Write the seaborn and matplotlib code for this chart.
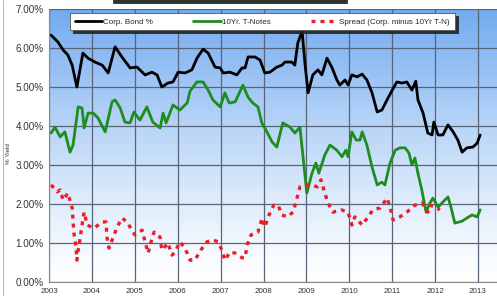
import numpy as np
import pandas as pd
import seaborn as sns
import matplotlib.pyplot as plt
from matplotlib.patches import Rectangle

# values (decimal year, percent yield)
corp_x = [2003.05, 2003.21, 2003.33, 2003.44, 2003.54, 2003.65, 2003.79, 2003.91, 2004.07, 2004.24,
          2004.38, 2004.54, 2004.70, 2004.89, 2005.05, 2005.24, 2005.40, 2005.52, 2005.63, 2005.77,
          2005.89, 2006.01, 2006.17, 2006.33, 2006.45, 2006.59, 2006.71, 2006.87, 2006.99, 2007.06,
          2007.22, 2007.38, 2007.50, 2007.57, 2007.64, 2007.80, 2007.92, 2008.03, 2008.15, 2008.31,
          2008.43, 2008.50, 2008.66, 2008.73, 2008.80, 2008.90, 2008.97, 2009.04, 2009.15, 2009.27,
          2009.36, 2009.48, 2009.60, 2009.71, 2009.78, 2009.90, 2009.97, 2010.06, 2010.18, 2010.30,
          2010.41, 2010.53, 2010.65, 2010.76, 2010.88, 2011.00, 2011.11, 2011.23, 2011.34, 2011.46,
          2011.55, 2011.60, 2011.72, 2011.83, 2011.93, 2011.97, 2012.07, 2012.18, 2012.30, 2012.42,
          2012.53, 2012.63, 2012.74, 2012.88, 2012.98, 2013.05]
corp_y = [6.33, 6.15, 5.95, 5.82, 5.56, 5.00, 5.87, 5.74, 5.64, 5.56,
          5.36, 6.03, 5.77, 5.49, 5.51, 5.31, 5.38, 5.31, 5.00, 5.10,
          5.13, 5.38, 5.36, 5.44, 5.74, 5.97, 5.87, 5.51, 5.49, 5.36,
          5.38, 5.31, 5.49, 5.49, 5.77, 5.77, 5.69, 5.36, 5.38, 5.51,
          5.56, 5.64, 5.64, 5.56, 6.13, 6.43, 5.56, 4.85, 5.31, 5.44,
          5.31, 5.74, 5.49, 5.18, 5.05, 5.18, 5.05, 5.31, 5.26, 5.33,
          5.18, 4.85, 4.36, 4.41, 4.67, 4.92, 5.13, 5.10, 5.13, 4.92,
          5.15, 4.67, 4.33, 3.82, 3.77, 4.10, 3.77, 3.77, 4.03, 3.85,
          3.64, 3.33, 3.44, 3.46, 3.56, 3.77]

tnote_x = [2003.05, 2003.14, 2003.26, 2003.37, 2003.49, 2003.56, 2003.68, 2003.77, 2003.82, 2003.91,
           2004.03, 2004.14, 2004.31, 2004.47, 2004.54, 2004.66, 2004.77, 2004.89, 2004.98, 2005.12,
           2005.28, 2005.42, 2005.59, 2005.66, 2005.73, 2005.89, 2006.05, 2006.22, 2006.29, 2006.45,
           2006.59, 2006.71, 2006.82, 2006.99, 2007.10, 2007.20, 2007.34, 2007.52, 2007.64, 2007.75,
           2007.87, 2007.96, 2008.08, 2008.20, 2008.31, 2008.45, 2008.62, 2008.73, 2008.85, 2009.01,
           2009.13, 2009.22, 2009.29, 2009.43, 2009.55, 2009.71, 2009.83, 2009.92, 2009.97, 2010.06,
           2010.16, 2010.25, 2010.30, 2010.41, 2010.53, 2010.65, 2010.76, 2010.83, 2010.95, 2011.07,
           2011.18, 2011.30, 2011.39, 2011.46, 2011.53, 2011.60, 2011.69, 2011.79, 2011.88, 2011.95,
           2012.07, 2012.18, 2012.30, 2012.37, 2012.46, 2012.63, 2012.74, 2012.86, 2012.98, 2013.05]
tnote_y = [3.82, 3.97, 3.72, 3.85, 3.33, 3.51, 4.49, 4.46, 3.95, 4.33,
           4.33, 4.21, 3.85, 4.62, 4.67, 4.46, 4.10, 4.08, 4.36, 4.15,
           4.49, 4.10, 3.95, 4.33, 4.08, 4.54, 4.41, 4.59, 4.90, 5.13,
           5.13, 4.92, 4.67, 4.49, 4.85, 4.59, 4.62, 5.05, 4.74, 4.59,
           4.49, 4.08, 3.85, 3.59, 3.46, 4.08, 3.97, 3.82, 3.97, 2.28,
           2.79, 3.05, 2.79, 3.26, 3.51, 3.38, 3.21, 3.38, 3.21, 3.85,
           3.64, 3.64, 3.85, 3.51, 2.95, 2.49, 2.56, 2.49, 3.05, 3.38,
           3.44, 3.44, 3.31, 3.00, 3.18, 2.79, 2.36, 1.79, 2.03, 2.15,
           1.92, 2.05, 2.18, 1.92, 1.51, 1.56, 1.64, 1.72, 1.67, 1.85]

spread_x = [2003.05, 2003.19, 2003.26, 2003.33, 2003.44, 2003.54, 2003.56, 2003.58, 2003.63, 2003.65,
            2003.68, 2003.72, 2003.77, 2003.82, 2003.89, 2004.05, 2004.24, 2004.33, 2004.35, 2004.40,
            2004.49, 2004.59, 2004.70, 2004.82, 2004.93, 2005.00, 2005.17, 2005.24, 2005.31, 2005.38,
            2005.45, 2005.59, 2005.63, 2005.68, 2005.77, 2005.87, 2005.94, 2006.05, 2006.17, 2006.29,
            2006.40, 2006.54, 2006.68, 2006.82, 2006.94, 2007.03, 2007.10, 2007.22, 2007.34, 2007.50,
            2007.57, 2007.62, 2007.71, 2007.87, 2007.97, 2008.03, 2008.13, 2008.24, 2008.34, 2008.43,
            2008.55, 2008.69, 2008.78, 2008.85, 2009.01, 2009.13, 2009.25, 2009.34, 2009.43, 2009.50,
            2009.62, 2009.81, 2009.97, 2010.06, 2010.13, 2010.30, 2010.44, 2010.55, 2010.72, 2010.88,
            2010.95, 2011.02, 2011.18, 2011.34, 2011.53, 2011.69, 2011.83, 2011.88, 2012.00, 2012.11]
spread_y = [2.49, 2.31, 2.36, 2.10, 2.28, 1.90, 1.59, 1.26, 0.90, 0.56,
            0.82, 1.08, 1.46, 1.79, 1.46, 1.38, 1.54, 1.54, 1.15, 0.87,
            1.13, 1.41, 1.64, 1.54, 1.33, 1.21, 1.33, 1.03, 0.74, 1.03,
            1.28, 1.15, 0.82, 0.87, 1.00, 0.69, 0.77, 1.03, 0.87, 0.56,
            0.56, 0.82, 1.03, 1.08, 1.03, 0.82, 0.56, 0.77, 0.74, 0.62,
            0.62, 0.95, 1.21, 1.28, 1.64, 1.41, 1.72, 1.97, 1.97, 1.72,
            1.67, 1.79, 2.15, 2.44, 2.49, 2.49, 2.44, 2.62, 2.28, 2.03,
            1.79, 1.85, 1.79, 1.46, 1.67, 1.46, 1.67, 1.85, 1.90, 2.15,
            1.92, 1.59, 1.67, 1.79, 1.97, 2.03, 1.79, 1.97, 1.92, 1.85]

years = list(range(2003, 2014))
yticks = [0, 1, 2, 3, 4, 5, 6, 7]

sns.set_style('white')
plt.rcParams['font.family'] = ['Liberation Sans', 'DejaVu Sans']

fig = plt.figure(figsize=(4.97, 2.96), dpi=100)
ax = fig.add_axes([49 / 497, 14 / 296, 448 / 497, 273 / 296])

# blue-to-white gradient behind the plot, set as an axes-filling image
grad = np.linspace(0, 1, 256).reshape(-1, 1) ** 1.2
top = np.array([0.45, 0.67, 0.94])
img = np.ones((256, 1, 3)) * (1 - grad[..., None]) + top * grad[..., None]
ax.imshow(img, extent=[0, 1, 0, 1], transform=ax.transAxes, origin='lower',
          aspect='auto', zorder=-5, interpolation='bilinear')

sns.lineplot(x=corp_x, y=corp_y, ax=ax, color='black', lw=2.0, sort=False,
             label='Corp. Bond %', zorder=3)
sns.lineplot(x=tnote_x, y=tnote_y, ax=ax, color='#1e8c1e', lw=2.0, sort=False,
             label='10Yr. T-Notes', zorder=3)
sns.lineplot(x=spread_x, y=spread_y, ax=ax, color='#e8202a', lw=2.4, sort=False,
             label='Spread (Corp. minus 10Yr T-N)', zorder=3)
ax.lines[-1].set_dashes((1.2, 1.5))

# grid drawn at the tick positions
for yr in years:
    ax.axvline(yr, color='#56657a', lw=0.9, zorder=2)
for v in yticks:
    ax.axhline(v, color='#56657a', lw=0.9, zorder=2)

ax.set_xlim(2003, 2003 + 448 / 42.9)
ax.set_ylim(0, 7)
ax.set_xticks(years)
ax.set_xticklabels([str(y) for y in years], fontsize=5.8, color='#333333')
ax.set_yticks(yticks)
ax.set_yticklabels(['%.2f%%' % v for v in yticks], fontsize=7.1, color='#333333')
ax.tick_params(axis='both', length=2, width=0.6, color='#777777', pad=2)
for s in ['top', 'right']:
    ax.spines[s].set_visible(False)
for s in ['left', 'bottom']:
    ax.spines[s].set_color('#888888')
    ax.spines[s].set_linewidth(0.8)

ax.set_ylabel('% Yield', fontsize=4.5, color='#333333')
ax.yaxis.set_label_coords(-0.085, 0.47)

leg = ax.legend(loc='upper left', bbox_to_anchor=(0.047, 0.910, 0.859, 0.075),
                mode='expand', ncol=3, fontsize=5.8, handlelength=3.4,
                handletextpad=0.15, borderpad=0.6, frameon=True, fancybox=False,
                shadow={'color': '#222222', 'alpha': 0.9}, borderaxespad=0)
leg.get_frame().set_edgecolor('#555555')
leg.get_frame().set_linewidth(0.6)
leg.set_zorder(5)

# dark title bar clipped at the top edge
fig.patches.append(Rectangle((113 / 497, 293 / 296), 234 / 497, 0.05,
                             transform=fig.transFigure, facecolor='#2c352c',
                             edgecolor='#1a1a1a', lw=0.5))
fig.add_artist(plt.Line2D([3 / 497, 3 / 497], [0, 1], color='#aaaaaa', lw=0.6,
                          transform=fig.transFigure))

plt.savefig('out.png', dpi=100)
